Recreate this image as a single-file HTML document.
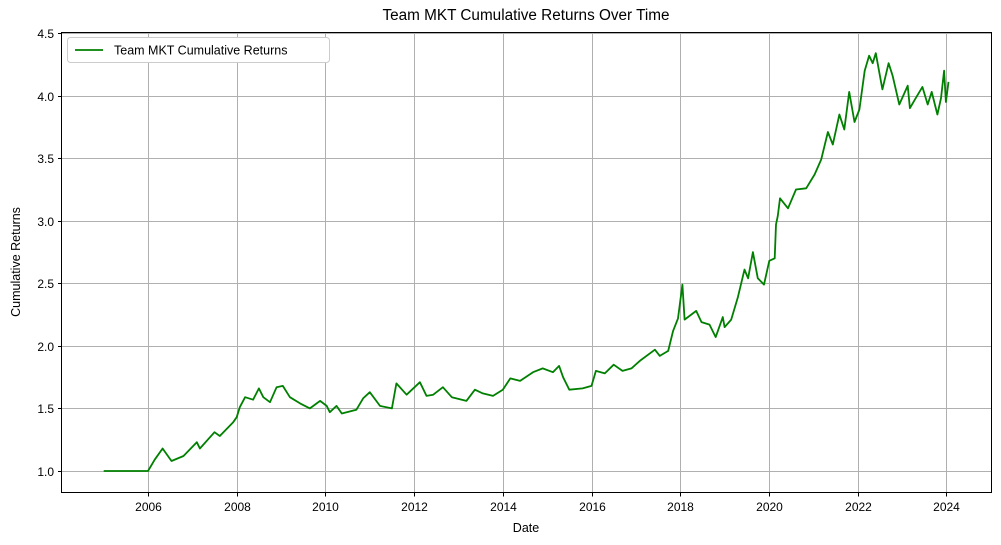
<!DOCTYPE html>
<html><head><meta charset="utf-8"><style>
html,body{margin:0;padding:0;background:#fff;}
svg{display:block;font-family:"Liberation Sans","DejaVu Sans",sans-serif;}
</style></head><body>
<svg id="chart" width="1001" height="545" viewBox="0 0 1001 545">
<rect width="1001" height="545" fill="#fff"/>
<text x="526" y="20" font-size="15.3" text-anchor="middle">Team MKT Cumulative Returns Over Time</text>
<g id="grid"></g>
<g id="ticks"></g>
<path id="line" fill="none" stroke="#008000" stroke-width="1.8" stroke-linejoin="round"/>
<rect x="61.5" y="32.5" width="930" height="460" fill="none" stroke="#000" stroke-width="1"/>
<text x="526" y="532" font-size="12.5" text-anchor="middle">Date</text>
<text x="20" y="262" font-size="12.5" text-anchor="middle" transform="rotate(-90 20 262)">Cumulative Returns</text>
<g>
<rect x="67.5" y="37.5" width="262" height="25" rx="3" fill="#fff" stroke="#ccc"/>
<line x1="75" y1="50" x2="103" y2="50" stroke="#008000" stroke-width="1.8"/>
<text x="114" y="54.5" font-size="12.5">Team MKT Cumulative Returns</text>
</g>
</svg>
<script>
const xTicks = [2006, 2008, 2010, 2012, 2014, 2016, 2018, 2020, 2022, 2024];
const yTicks = [1.0, 1.5, 2.0, 2.5, 3.0, 3.5, 4.0, 4.5];
const dates = [2005.0,2006.0,2006.15,2006.33,2006.53,2006.8,2007.1,2007.17,2007.5,2007.62,2007.92,2008.0,2008.07,2008.19,2008.37,2008.5,2008.6,2008.75,2008.9,2009.04,2009.2,2009.43,2009.65,2009.88,2010.03,2010.1,2010.25,2010.37,2010.7,2010.85,2011.0,2011.23,2011.5,2011.6,2011.83,2012.13,2012.28,2012.43,2012.65,2012.85,2013.18,2013.37,2013.55,2013.78,2014.0,2014.17,2014.39,2014.68,2014.9,2015.13,2015.27,2015.36,2015.5,2015.8,2016.0,2016.1,2016.3,2016.5,2016.7,2016.9,2017.09,2017.43,2017.54,2017.73,2017.84,2017.95,2018.05,2018.1,2018.36,2018.48,2018.66,2018.8,2018.96,2019.0,2019.15,2019.3,2019.45,2019.53,2019.64,2019.75,2019.89,2020.01,2020.13,2020.16,2020.2,2020.25,2020.43,2020.61,2020.84,2021.03,2021.18,2021.33,2021.44,2021.59,2021.7,2021.81,2021.93,2022.04,2022.16,2022.26,2022.34,2022.41,2022.56,2022.7,2022.79,2022.94,2023.13,2023.18,2023.31,2023.46,2023.58,2023.67,2023.8,2023.88,2023.95,2023.99,2024.05];
const values = [1.0,1.0,1.09,1.18,1.08,1.12,1.23,1.18,1.31,1.28,1.39,1.43,1.51,1.59,1.57,1.66,1.59,1.55,1.67,1.68,1.59,1.54,1.50,1.56,1.52,1.47,1.52,1.46,1.49,1.58,1.63,1.52,1.50,1.70,1.61,1.71,1.60,1.61,1.67,1.59,1.56,1.65,1.62,1.60,1.65,1.74,1.72,1.79,1.82,1.79,1.84,1.75,1.65,1.66,1.68,1.80,1.78,1.85,1.80,1.82,1.88,1.97,1.92,1.96,2.12,2.22,2.49,2.21,2.28,2.19,2.17,2.07,2.23,2.15,2.21,2.39,2.61,2.54,2.75,2.54,2.49,2.68,2.70,2.97,3.04,3.18,3.10,3.25,3.26,3.37,3.49,3.71,3.61,3.85,3.73,4.03,3.79,3.89,4.20,4.32,4.26,4.34,4.05,4.26,4.16,3.93,4.08,3.90,3.98,4.07,3.93,4.03,3.85,3.98,4.20,3.95,4.11];

const X0 = 148, XPY = 44.35;
const Y0 = 471, YPU = 125.1;
const xs = d => X0 + (d - 2006) * XPY;
const ys = v => Y0 - (v - 1) * YPU;
const NS = 'http://www.w3.org/2000/svg';
const grid = document.getElementById('grid');
const ticks = document.getElementById('ticks');
function mk(tag, attrs, parent){ const e=document.createElementNS(NS,tag); for(const k in attrs) e.setAttribute(k,attrs[k]); parent.appendChild(e); return e; }

xTicks.forEach(t => {
  const x = Math.round(xs(t)) + 0.5;
  const g = mk('line',{x1:x,y1:33,x2:x,y2:492,stroke:'#b0b0b0','stroke-width':1},grid);
  
  
  const tk = mk('line',{x1:x,y1:493,x2:x,y2:496.5,stroke:'#000','stroke-width':1},ticks);
  
  
  const lb = mk('text',{x:x,y:511,'font-size':12,'text-anchor':'middle'},ticks);
  lb.textContent = String(t);
  
  
});
yTicks.forEach(t => {
  const y = Math.round(ys(t)) + 0.5;
  const g = mk('line',{x1:62,y1:y,x2:991,y2:y,stroke:'#b0b0b0','stroke-width':1},grid);
  
  
  const tk = mk('line',{x1:58,y1:y,x2:61.5,y2:y,stroke:'#000','stroke-width':1},ticks);
  
  
  const lb = mk('text',{x:54,y:y+4.5,'font-size':12,'text-anchor':'end'},ticks);
  lb.textContent = t.toFixed(1);
  
  
});
let d = '';
dates.forEach((dt,i) => { d += (i ? 'L' : 'M') + xs(dt).toFixed(1) + ',' + ys(values[i]).toFixed(1); });
document.getElementById('line').setAttribute('d', d);
</script>
</body></html>
